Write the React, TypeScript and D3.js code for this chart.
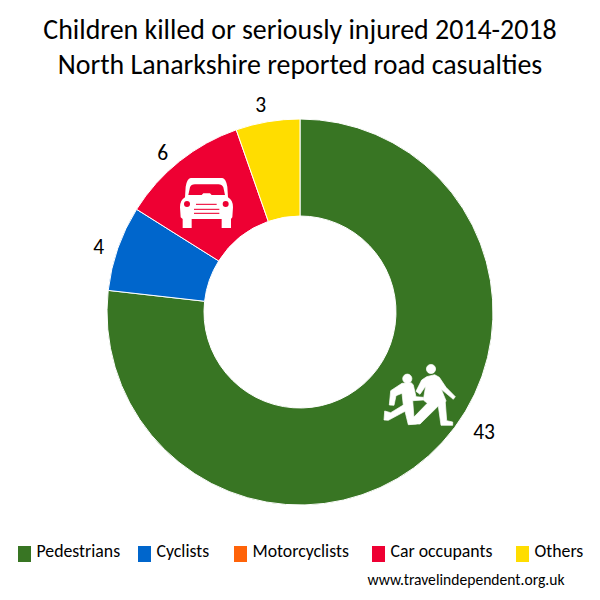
import React from "react";
import * as d3 from "d3";

const categories = ["Pedestrians", "Cyclists", "Motorcyclists", "Car occupants", "Others"];
const values = [43, 4, 0, 6, 3];
const colors = ["#387523", "#0066CC", "#FF6309", "#EE0033", "#FFDD00"];
const titleLines = ["Children killed or seriously injured 2014-2018", "North Lanarkshire reported road casualties"];
const FONT = "Carlito, Calibri, Lato, 'Open Sans', sans-serif";

const cx = 300, cy = 312, R = 193, r0 = 96;
const swatchX = [18, 138, 234, 372, 516];
const labelNudge = [[39.5, -41.8], [3.5, 7], [0, 0], [-2, 10.3], [-3, 7]];

function z(pts: number[][], ox: number, oy: number) {
  return "M" + pts.map(([x, y]) => `${(ox + x / 3).toFixed(1)},${(oy + y / 3).toFixed(1)}`).join("L") + "Z";
}

const bigChild = [[170,80],[155,90],[138,124],[150,133],[167,108],[160,150],[172,160],[128,205],[118,222],[150,222],[205,168],[213,226],[248,226],[248,216],[230,212],[226,158],[228,152],[214,118],[250,148],[256,140],[228,112],[208,82],[194,74]];
const smallChild = [[96,100],[62,122],[58,165],[72,166],[78,137],[96,130],[100,165],[62,188],[44,183],[42,210],[55,211],[105,184],[115,224],[140,222],[132,205],[128,152],[160,150],[160,142],[138,140],[130,105],[124,98]];

const carBody = "M62,24 L157,24 Q168,26 172,50 L174,82 Q189,90 189,112 L187,142 L183,147 L183,174 L155,174 L155,147 L65,147 L65,174 L38,174 L38,147 L32,142 L30,112 Q30,90 45,82 L47,50 Q51,26 62,24Z";

export default function App() {
  const pie = d3.pie<number>().sort(null).value(d => d)(values);
  const arc = d3.arc<d3.PieArcDatum<number>>().innerRadius(r0).outerRadius(R);
  const labelArc = d3.arc<d3.PieArcDatum<number>>().innerRadius(R + 24).outerRadius(R + 24);
  return (
    <svg width={600} height={600} viewBox="0 0 600 600" style={{ position: "absolute", left: 0, top: 0, background: "#fff" }} fontFamily={FONT}>
      {titleLines.map((t, i) => (
        <text key={t} x={300} y={39 + i * 34.5} textAnchor="middle" fontSize={27.9} fill="#000">{t}</text>
      ))}
      <g>
        {pie.map((p, i) => values[i] > 0 && (
          <path key={categories[i]} d={arc(p) as string} transform={`translate(${cx},${cy})`} fill={colors[i]} stroke="#fff" strokeWidth={1} />
        ))}
      </g>
      {pie.map((p, i) => {
        if (!values[i]) return null;
        const [x, y] = labelArc.centroid(p);
        return (
          <text key={i} x={cx + x + labelNudge[i][0]} y={cy + y + labelNudge[i][1]} textAnchor="middle" dominantBaseline="central" fontSize={21.5} fill="#000">{values[i]}</text>
        );
      })}
      <g fill="#fff" stroke="#fff" strokeWidth={0.7} strokeLinejoin="round">
        <circle cx={431} cy={369} r={4.6} />
        <path d={z(bigChild, 370, 350)} />
        <circle cx={407.3} cy={378.7} r={4.6} />
        <path d={z(smallChild, 370, 350)} />
      </g>
      <g transform="translate(170,170) scale(0.3333)">
        <path d={carBody} fill="#fff" />
        <path d="M55,75 L60,52 Q63,43 75,43 L145,43 Q156,43 160,52 L165,75 L125,75 L120,70 L100,70 L95,75Z" fill={colors[3]} />
        <circle cx={51} cy={102} r={9} fill={colors[3]} />
        <circle cx={167} cy={102} r={9} fill={colors[3]} />
        <g stroke={colors[3]} strokeWidth={3.2}>
          <line x1={78} x2={140} y1={103} y2={103} />
          <line x1={72} x2={148} y1={118} y2={118} />
          <line x1={72} x2={148} y1={130} y2={130} />
        </g>
      </g>
      {categories.map((c, i) => {
        const x = swatchX[i];
        return (
          <g key={c}>
            <rect x={x} y={546} width={13} height={16} fill={colors[i]} />
            <text x={x + 18.5} y={557} fontSize={17.8} fill="#000">{c}</text>
          </g>
        );
      })}
      <text x={564.5} y={585} textAnchor="end" fontSize={15.6} fill="#000">www.travelindependent.org.uk</text>
    </svg>
  );
}
